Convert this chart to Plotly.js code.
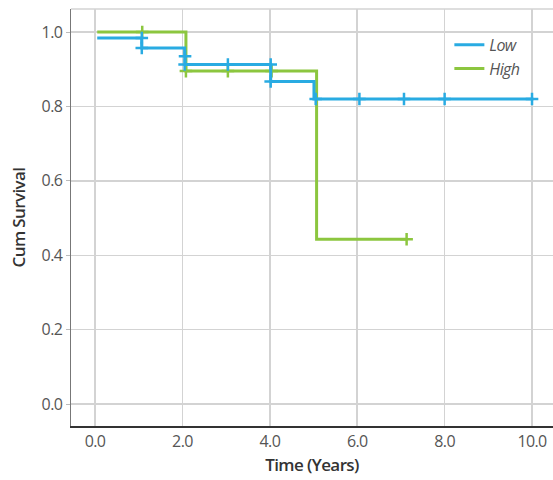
<!DOCTYPE html>
<html>
<head>
<meta charset="utf-8">
<script src="https://cdn.plot.ly/plotly-3.0.1.min.js"></script>
<style>html,body{margin:0;padding:0;background:#fff;}#chart{width:553px;height:480px;}
#chart text{letter-spacing:-0.6px;}</style>
</head>
<body>
<div id="chart"></div>
<script>
// Step curves (Kaplan-Meier)
const lowTimes = [0.05, 1.07, 2.05, 2.06, 4.02, 5.01, 10.03];
const lowSurv  = [0.984, 0.957, 0.935, 0.913, 0.867, 0.82, 0.82];
const lowCensorT = [1.07, 1.07, 2.06, 2.05, 3.04, 4.02, 4.02, 5.05, 6.05, 7.07, 8.0, 10.0];
const lowCensorS = [0.984, 0.957, 0.935, 0.913, 0.913, 0.913, 0.867, 0.82, 0.82, 0.82, 0.82, 0.82];

const highTimes = [0.05, 2.08, 5.07, 7.13];
const highSurv  = [1.0, 0.895, 0.443, 0.443];
const highCensorT = [1.08, 2.08, 3.04, 4.04, 7.13];
const highCensorS = [1.0, 0.895, 0.895, 0.895, 0.443];

const xTicks = [0, 2, 4, 6, 8, 10];
const xTickText = ['0.0', '2.0', '4.0', '6.0', '8.0', '10.0'];
const yTicks = [0, 0.2, 0.4, 0.6, 0.8, 1.0];
const yTickText = ['0.0', '0.2', '0.4', '0.6', '0.8', '1.0'];

const blue = '#29abe2';
const green = '#8cc63f';
const FONT = '"Open Sans", "DejaVu Sans", sans-serif';

const traces = [
  {x: highTimes, y: highSurv, mode: 'lines', line: {shape: 'hv', color: green, width: 3}, name: 'High', legendrank: 2},
  {x: highCensorT, y: highCensorS, mode: 'markers', marker: {symbol: 'cross-thin', size: 9, line: {color: green, width: 2.5}}, showlegend: false, hoverinfo: 'skip'},
  {x: lowTimes, y: lowSurv, mode: 'lines', line: {shape: 'hv', color: blue, width: 3}, name: 'Low', legendrank: 1},
  {x: lowCensorT, y: lowCensorS, mode: 'markers', marker: {symbol: 'cross-thin', size: 9, line: {color: blue, width: 2.5}}, showlegend: false, hoverinfo: 'skip'}
];

const layout = {
  width: 553, height: 480,
  margin: {l: 71, r: 0, t: 9, b: 54},
  paper_bgcolor: '#fff', plot_bgcolor: '#fff',
  font: {family: FONT, color: '#555', size: 15},
  showlegend: true,
  legend: {x: 0.785, y: 0.955, xanchor: 'left', yanchor: 'top', bgcolor: 'rgba(0,0,0,0)',
           font: {family: FONT, size: 16, color: '#555', style: 'italic'}, itemwidth: 30, tracegroupgap: 0},
  xaxis: {
    range: [-0.55, 10.48], tickvals: xTicks, ticktext: xTickText,
    showgrid: true, gridcolor: '#d3d3d3', gridwidth: 1.5, zeroline: false,
    showline: true, linecolor: '#333', linewidth: 1.5, ticks: '',
    tickfont: {family: FONT, size: 16, color: '#555'},
    title: {text: 'Time (Years)', font: {family: FONT, size: 17, color: '#333', weight: 600}, standoff: 8}
  },
  yaxis: {
    range: [-0.059, 1.062], tickvals: yTicks, ticktext: yTickText,
    showgrid: true, gridcolor: '#d3d3d3', gridwidth: 1.5, zeroline: false,
    showline: true, linecolor: '#777', linewidth: 1.5, ticks: 'outside', ticklen: 4, tickcolor: '#bbb',
    tickfont: {family: FONT, size: 16, color: '#555'},
    title: {text: 'Cum Survival', font: {family: FONT, size: 17, color: '#333', weight: 600}, standoff: 10}
  },
  shapes: [
    {type: 'line', xref: 'paper', yref: 'paper', x0: 0, x1: 1, y0: 1, y1: 1, line: {color: '#d3d3d3', width: 1.5}}
  ]
};

Plotly.newPlot('chart', traces, layout, {displayModeBar: false, staticPlot: true});
</script>
</body>
</html>
